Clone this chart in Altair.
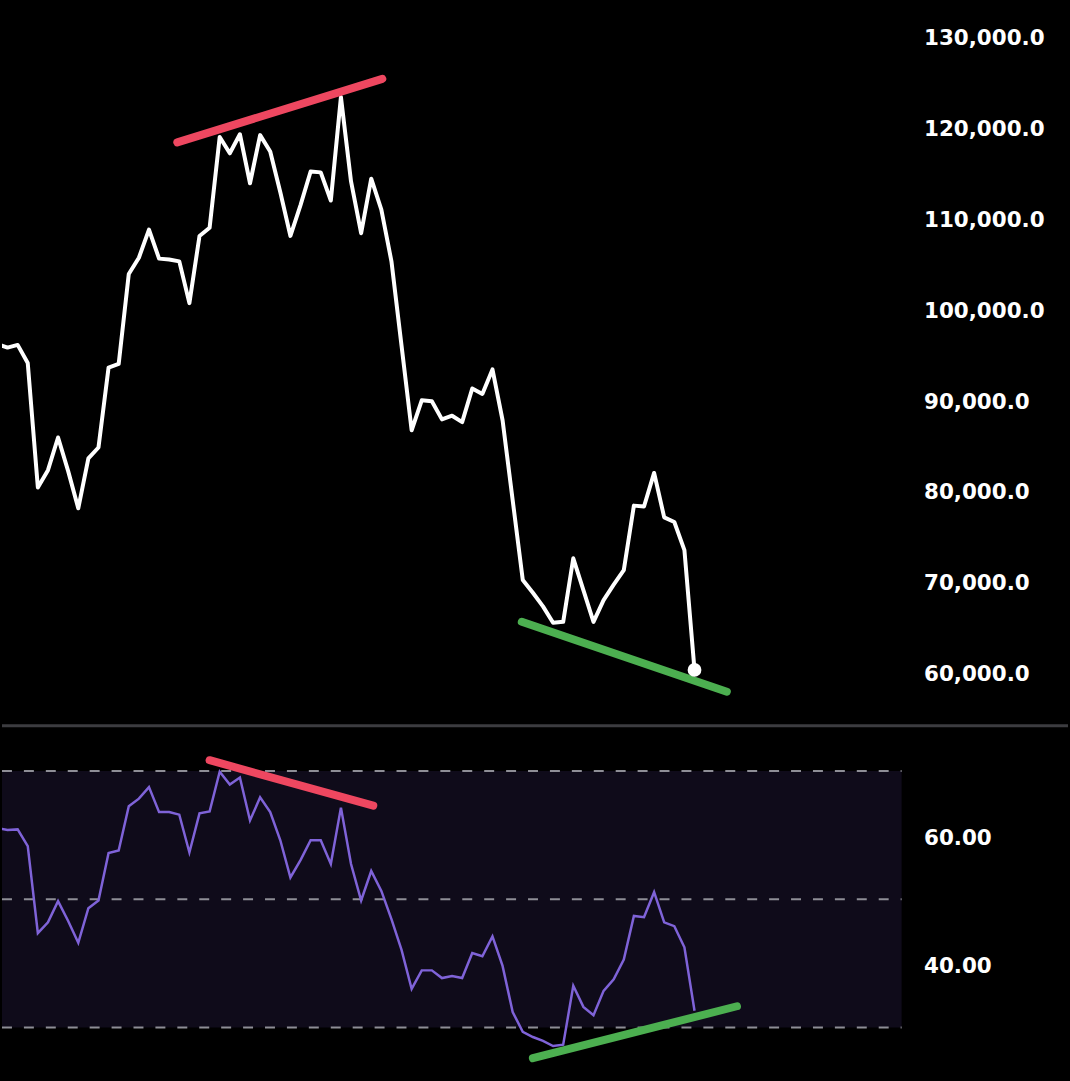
import altair as alt
import pandas as pd

# ---- data ----
price = [96400, 96000, 96300, 94300, 80600, 82500, 86100, 82400, 78300, 83800,
         85000, 93800, 94200, 104100, 105900, 109000, 105800, 105700, 105500, 100900,
         108300, 109200, 119200, 117400, 119500, 114100, 119400, 117600, 113100, 108300,
         111700, 115400, 115300, 112200, 123600, 114300, 108600, 114600, 111200, 105500,
         96200, 86900, 90200, 90100, 88100, 88500, 87800, 91500, 90900, 93600,
         88000, 79200, 70400, 69000, 67500, 65700, 65800, 72800, 69300, 65800,
         68200, 69900, 71500, 78600, 78500, 82200, 77300, 76800, 73700, 60500]

rsi = [61.1, 60.8, 60.9, 58.3, 44.7, 46.4, 49.7, 46.6, 43.2, 48.6,
       49.8, 57.2, 57.6, 64.5, 65.7, 67.5, 63.6, 63.6, 63.2, 57.3,
       63.4, 63.7, 69.9, 67.9, 69.0, 62.3, 65.9, 63.6, 59.2, 53.4,
       56.1, 59.2, 59.2, 55.5, 64.3, 55.5, 49.8, 54.4, 51.3, 46.9,
       42.1, 36.0, 38.9, 38.9, 37.7, 38.0, 37.7, 41.6, 41.1, 44.2,
       39.6, 32.4, 29.3, 28.5, 27.9, 27.1, 27.3, 36.5, 33.2, 31.9,
       35.7, 37.5, 40.6, 47.4, 47.2, 51.1, 46.4, 45.8, 42.5, 32.6]

t = list(range(len(price)))

price_ticks = [60000, 70000, 80000, 90000, 100000, 110000, 120000, 130000]
rsi_ticks = [40, 60]
rsi_levels = [30, 50, 70]
rsi_band = [30, 70]

# divergence trend lines (time index, value)
price_bear_t = [17.8, 38.1]
price_bear_v = [118600, 125600]
price_bull_t = [51.9, 72.2]
price_bull_v = [65800, 58100]
rsi_bear_t = [21.0, 37.2]
rsi_bear_v = [71.7, 64.6]
rsi_bull_t = [53.0, 73.2]
rsi_bull_v = [25.2, 33.3]

x_domain = [0.45, 105.97]
band_end = 89.5
price_domain = [54514, 134062]
rsi_domain = [21.95, 77.3]

W = 1070
H_TOP = 725
H_BOT = 356

RED = "#ee4760"
GREEN = "#4caf50"
PURPLE = "#7f63d8"

series = pd.DataFrame({"t": t, "price": price, "rsi": rsi})
last = series.tail(1)

xs = alt.Scale(domain=x_domain, nice=False, zero=False)
ps = alt.Scale(domain=price_domain, nice=False, zero=False)
rs = alt.Scale(domain=rsi_domain, nice=False, zero=False)

label_font = "DejaVu Sans"

price_axis = alt.Axis(orient="right", values=price_ticks, format=",.1f",
                      offset=-(W - 925), labelPadding=0, labelAlign="left",
                      ticks=False, domain=False, grid=False, title=None,
                      labelColor="#ffffff", labelFont=label_font,
                      labelFontSize=21.5, labelFontWeight="bold", labelBaseline="middle")
rsi_axis = alt.Axis(orient="right", values=rsi_ticks, format=".2f",
                    offset=-(W - 925), labelPadding=0, labelAlign="left", labelOffset=3,
                    ticks=False, domain=False, grid=False, title=None,
                    labelColor="#ffffff", labelFont=label_font,
                    labelFontSize=21.5, labelFontWeight="bold", labelBaseline="middle")

# ---- top: price ----
price_line = alt.Chart(series).mark_line(color="#ffffff", strokeWidth=4, clip=True,
                                         strokeJoin="round").encode(
    x=alt.X("t:Q", scale=xs, axis=None),
    y=alt.Y("price:Q", scale=ps, axis=price_axis),
)
price_dot = alt.Chart(last).mark_circle(color="#ffffff", opacity=1, size=190).encode(
    x=alt.X("t:Q", scale=xs, axis=None),
    y=alt.Y("price:Q", scale=ps),
)


def trend(tv, vv, color, scale):
    df = pd.DataFrame({"t": [tv[0]], "t2": [tv[1]], "v": [vv[0]], "v2": [vv[1]]})
    return alt.Chart(df).mark_rule(color=color, strokeWidth=8, strokeCap="round").encode(
        x=alt.X("t:Q", scale=xs, axis=None), x2="t2:Q",
        y=alt.Y("v:Q", scale=scale), y2="v2:Q",
    )


top = alt.layer(
    price_line,
    trend(price_bear_t, price_bear_v, RED, ps),
    trend(price_bull_t, price_bull_v, GREEN, ps),
    price_dot,
).properties(width=W, height=H_TOP)

# ---- bottom: RSI ----
band_df = pd.DataFrame({"t": [x_domain[0]], "t2": [band_end],
                        "lo": [rsi_band[0]], "hi": [rsi_band[1]]})
band = alt.Chart(band_df).mark_rect(color="#0f0b1a").encode(
    x=alt.X("t:Q", scale=xs, axis=None), x2="t2:Q",
    y=alt.Y("lo:Q", scale=rs, axis=rsi_axis), y2="hi:Q",
)
levels_df = pd.DataFrame({"lvl": rsi_levels, "t": [x_domain[0]] * 3, "t2": [band_end] * 3})
levels = alt.Chart(levels_df).mark_rule(color="#8e8e96", strokeWidth=2,
                                        strokeDash=[10, 12]).encode(
    x=alt.X("t:Q", scale=xs, axis=None), x2="t2:Q",
    y=alt.Y("lvl:Q", scale=rs),
)
rsi_line = alt.Chart(series).mark_line(color=PURPLE, strokeWidth=2.5, clip=True).encode(
    x=alt.X("t:Q", scale=xs, axis=None),
    y=alt.Y("rsi:Q", scale=rs),
)
sep = alt.Chart(band_df).mark_rule(color="#3c3c40", strokeWidth=3).encode(
    x=alt.value(0), x2=alt.value(W), y=alt.value(1.5),
)

bottom = alt.layer(
    band, levels, rsi_line,
    trend(rsi_bear_t, rsi_bear_v, RED, rs),
    trend(rsi_bull_t, rsi_bull_v, GREEN, rs),
    sep,
).properties(width=W, height=H_BOT)

chart = alt.vconcat(top, bottom, spacing=0).properties(
    background="#000000", padding=0
).configure_view(stroke=None).configure_concat(spacing=0)

chart.save("out.html", embed_options={"renderer": "svg", "actions": False})
